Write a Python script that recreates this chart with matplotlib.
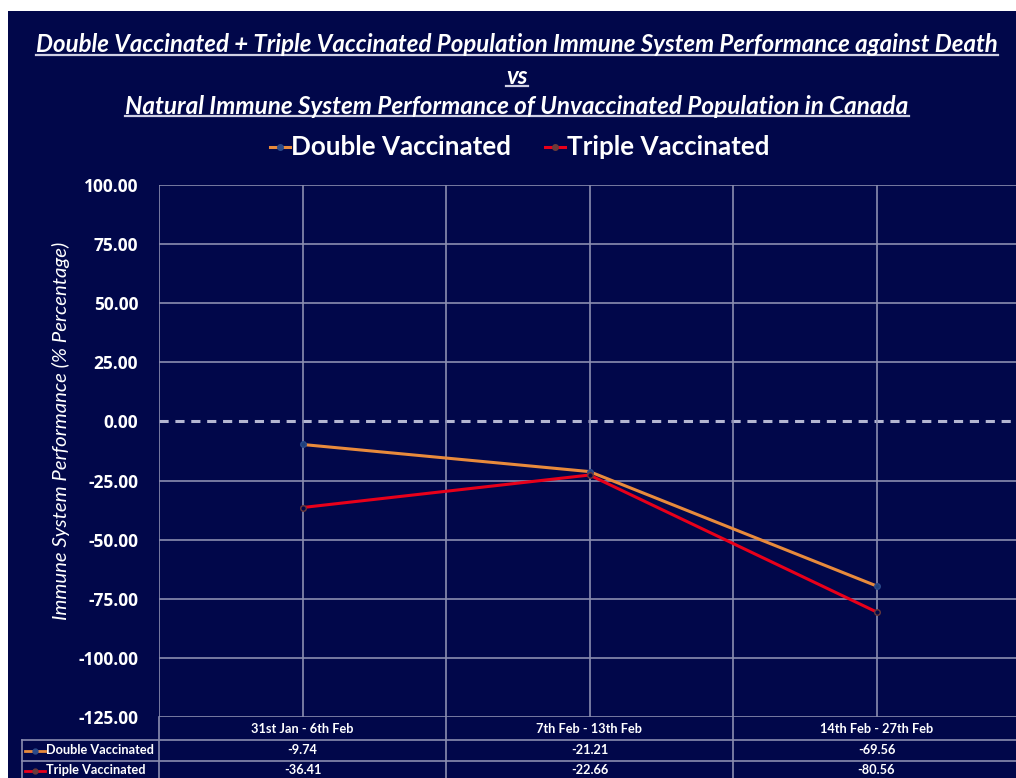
import matplotlib
matplotlib.use("Agg")
import matplotlib.pyplot as plt
from matplotlib.lines import Line2D
from matplotlib.patches import Rectangle
import matplotlib.transforms as mtrans

categories = ["31st Jan - 6th Feb", "7th Feb - 13th Feb", "14th Feb - 27th Feb"]
double_vacc = [-9.74, -21.21, -69.56]
triple_vacc = [-36.41, -22.66, -80.56]
series_names = ["Double Vaccinated", "Triple Vaccinated"]
yticks = [100, 75, 50, 25, 0, -25, -50, -75, -100, -125]
title_lines = ["Double Vaccinated + Triple Vaccinated Population Immune System Performance against Death",
               "vs",
               "Natural Immune System Performance of Unvaccinated Population in Canada"]
ylabel = "Immune System Performance (% Percentage)"

W, H = 1016, 778
BG = "#01074A"
GRID = "#8A8DB0"
ORANGE = "#E88A3C"
RED = "#E8001A"
FONT = "Lato"

fig = plt.figure(figsize=(W / 100, H / 100), dpi=100, facecolor="white")
fig.patches.append(Rectangle((8 / W, 0), 1 - 8 / W, 1 - 11 / H, transform=fig.transFigure,
                             facecolor=BG, edgecolor="none", zorder=-10))
renderer = fig.canvas.get_renderer()


def fx(px):
    return px / W


def fy(py):
    return 1 - py / H


def fit(t, target_w):
    bb = t.get_window_extent(renderer)
    t.set_fontsize(t.get_fontsize() * target_w / bb.width)


ax_left, ax_top, ax_bottom = 159, 185, 717
ax = fig.add_axes([fx(ax_left), fy(ax_bottom), 1 - fx(ax_left), (ax_bottom - ax_top) / H])
ax.set_facecolor("none")
cat_px = 287.0
ax.set_xlim(-0.5, -0.5 + (W - ax_left) / cat_px)
ax.set_ylim(-125, 100)
for s in ax.spines.values():
    s.set_visible(False)

xs = list(range(len(categories)))
for y in yticks:
    if y == 0:
        ax.axhline(0, color="#B4B6D2", lw=2.2, ls=(0, (3, 2.2)), zorder=1)
    else:
        ax.axhline(y, color=GRID, lw=1.2, zorder=1)
for x in xs + [-0.5, 0.5, 1.5, 2.5]:
    ax.axvline(x, color=GRID, lw=1.2, zorder=1)

ax.plot(xs, double_vacc, color=ORANGE, lw=2.2, marker="o", ms=4, mfc="#1F3F7A", mec="#2A4A8A", zorder=3)
ax.plot(xs, triple_vacc, color=RED, lw=2.2, marker="o", ms=4, mfc=BG, mec="#6A3A3A", zorder=3)

ax.set_yticks(yticks)
ax.set_yticklabels([f"{v:.2f}" for v in yticks])
ax.tick_params(axis="y", length=0, pad=15, labelcolor="white")
ax.tick_params(axis="x", length=0, labelbottom=False)
for t in ax.get_yticklabels():
    t.set_fontfamily("Open Sans")
    t.set_fontweight("bold")
    t.set_fontsize(12.5)

yl = fig.text(fx(61), fy(431), ylabel, rotation=90, ha="center", va="center", color="white",
              fontsize=13, style="italic", family=FONT)
bb = yl.get_window_extent(renderer)
yl.set_fontsize(yl.get_fontsize() * 378 / bb.height)

title_specs = [(45, 963), (76, None), (106, 783)]
title_texts = []
for line, (ty, tw) in zip(title_lines, title_specs):
    t = fig.text(fx(517), fy(ty), line, ha="center", va="center", color="white",
                 fontsize=17, fontweight="bold", style="italic", family=FONT)
    if tw:
        fit(t, tw)
    title_texts.append(t)
title_texts[1].set_fontsize(title_texts[0].get_fontsize())

leg_y = fy(147)
leg_items = [(ORANGE, "#2A4A8A", series_names[0], 270, 291, 220),
             (RED, "#6A3A3A", series_names[1], 545, 567, 202)]
for col, mcol, name, x0, tx, tw in leg_items:
    fig.lines.append(Line2D([fx(x0), fx(x0 + 20)], [leg_y, leg_y], transform=fig.transFigure,
                            color=col, lw=2.2))
    fig.lines.append(Line2D([fx(x0 + 10)], [leg_y], transform=fig.transFigure, marker="o", ms=4,
                            mfc=mcol, mec=mcol, color=col))
    t = fig.text(fx(tx), leg_y, name, ha="left", va="center", color="white",
                 fontsize=19, fontweight="bold", family=FONT)
    fit(t, tw)

tr = mtrans.blended_transform_factory(ax.transData, fig.transFigure)
tbl_left = 22
for r in [739.5, 761]:
    fig.lines.append(Line2D([fx(tbl_left), 1], [fy(r), fy(r)], transform=fig.transFigure,
                            color=GRID, lw=1.2))
fig.lines.append(Line2D([fx(tbl_left), fx(tbl_left)], [fy(739.5), 0], transform=fig.transFigure,
                        color=GRID, lw=1.2))
for x in [-0.5, 0.5, 1.5]:
    fig.lines.append(Line2D([x, x], [fy(717), 0], transform=tr, color=GRID, lw=1.2))

TBL_FS = 9.2
for x, c in zip(xs, categories):
    fig.text(x, fy(729), c, transform=tr, ha="center", va="center", color="white",
             fontsize=TBL_FS, fontweight="bold", family=FONT)
for vals, ry in [(double_vacc, 750.5), (triple_vacc, 770.5)]:
    for x, v in zip(xs, vals):
        fig.text(x, fy(ry), f"{v:.2f}", transform=tr, ha="center", va="center", color="white",
                 fontsize=TBL_FS, fontweight="bold", family=FONT)
for (col, mcol, name, *_), ry in zip(leg_items, [750.5, 770.5]):
    fig.lines.append(Line2D([fx(25), fx(45)], [fy(ry), fy(ry)], transform=fig.transFigure,
                            color=col, lw=2))
    fig.lines.append(Line2D([fx(35)], [fy(ry)], transform=fig.transFigure, marker="o", ms=3.5,
                            mfc=mcol, mec=mcol, color=col))
    fig.text(fx(46), fy(ry), name, ha="left", va="center", color="white",
             fontsize=TBL_FS, fontweight="bold", family=FONT)

for t in title_texts:
    bb = t.get_window_extent(renderer)
    uy = bb.y0 + 2
    fig.lines.append(Line2D([bb.x0 / W, bb.x1 / W], [uy / H, uy / H], transform=fig.transFigure,
                            color="#D0D0E4", lw=1.6))

fig.savefig("out.png", dpi=100, facecolor=fig.get_facecolor())
